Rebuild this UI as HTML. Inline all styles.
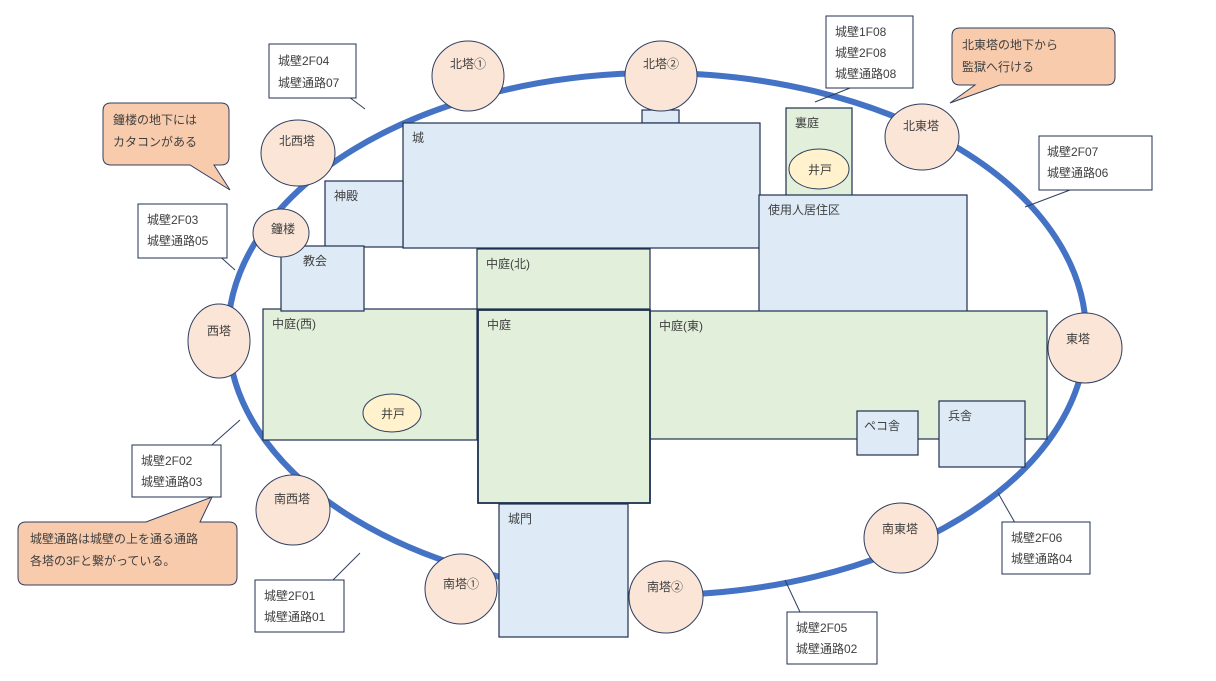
<!DOCTYPE html>
<html><head><meta charset="utf-8">
<style>
html,body{margin:0;padding:0;background:#fff;}
svg{display:block;}
text{font-family:"Liberation Sans","Noto Sans CJK JP",sans-serif;font-size:12px;fill:#404040;}
.b{fill:#DEEBF7;stroke:#1F3050;stroke-width:1.2;}
.g{fill:#E2EFDA;stroke:#1F3050;stroke-width:1.2;}
.t{fill:#FBE5D6;stroke:#2F3F60;stroke-width:1;}
.w{fill:#FFF2CC;stroke:#2F3F60;stroke-width:1;}
.l{fill:#fff;stroke:#1F3050;stroke-width:1;}
.c{fill:#F8CBAD;stroke:#2F3F60;stroke-width:1;}
.ln{stroke:#2F3F60;stroke-width:1;fill:none;}
</style></head><body>
<svg width="1216" height="681" viewBox="0 0 1216 681">
<ellipse cx="657" cy="334" rx="429" ry="261" fill="none" stroke="#4472C4" stroke-width="6"/>
<!-- leaders -->
<line class="ln" x1="345" y1="94" x2="365" y2="109"/>
<line class="ln" x1="850" y1="88" x2="815" y2="102"/>
<line class="ln" x1="1070" y1="190" x2="1025" y2="207"/>
<line class="ln" x1="215" y1="252" x2="235" y2="270"/>
<line class="ln" x1="205" y1="451" x2="240" y2="420"/>
<line class="ln" x1="328" y1="585" x2="360" y2="553"/>
<line class="ln" x1="800" y1="612" x2="785" y2="580"/>
<line class="ln" x1="1018" y1="528" x2="998" y2="493"/>
<!-- buildings -->
<rect class="b" x="642" y="110" width="37" height="13"/>
<rect class="b" x="403" y="123" width="357" height="125"/><text x="412" y="142">城</text>
<rect class="g" x="786" y="108" width="66" height="88"/><text x="795" y="127">裏庭</text>
<ellipse class="w" cx="819" cy="169" rx="30" ry="20"/><text x="808" y="174">井戸</text>
<rect class="b" x="759" y="195" width="208" height="117"/><text x="768" y="214">使用人居住区</text>
<rect class="b" x="325" y="181" width="78" height="66"/><text x="334" y="200">神殿</text>
<rect class="g" x="477" y="249" width="173" height="60"/><text x="486" y="268">中庭(北)</text>
<rect class="g" x="263" y="309" width="214" height="131"/><text x="272" y="328">中庭(西)</text>
<ellipse class="w" cx="392" cy="413" rx="29" ry="19"/><text x="381" y="418">井戸</text>
<rect class="g" x="650" y="311" width="397" height="128"/><text x="659" y="330">中庭(東)</text>
<rect class="g" x="478" y="310" width="172" height="193" style="stroke-width:1.8"/><text x="487" y="329">中庭</text>
<rect class="b" x="857" y="411" width="61" height="44"/><text x="864" y="430">ペコ舎</text>
<rect class="b" x="939" y="401" width="86" height="66"/><text x="948" y="420">兵舎</text>
<rect class="b" x="499" y="504" width="129" height="133"/><text x="508" y="523">城門</text>
<rect class="b" x="281" y="246" width="83" height="65"/>
<ellipse class="t" cx="281" cy="233" rx="28" ry="24"/><text x="271" y="233">鐘楼</text>
<text x="303" y="265">教会</text>
<!-- towers -->
<ellipse class="t" cx="468" cy="76" rx="36" ry="35"/><text x="450" y="68">北塔①</text>
<ellipse class="t" cx="661" cy="76" rx="36" ry="35"/><text x="643" y="68">北塔②</text>
<ellipse class="t" cx="298" cy="153" rx="37" ry="33"/><text x="279" y="145">北西塔</text>
<ellipse class="t" cx="922" cy="137" rx="37" ry="33"/><text x="903" y="130">北東塔</text>
<ellipse class="t" cx="219" cy="341" rx="31" ry="37"/><text x="207" y="335">西塔</text>
<ellipse class="t" cx="1085" cy="348" rx="37" ry="35"/><text x="1066" y="343">東塔</text>
<ellipse class="t" cx="293" cy="510" rx="37" ry="35"/><text x="274" y="503">南西塔</text>
<ellipse class="t" cx="461" cy="589" rx="36" ry="35"/><text x="443" y="588">南塔①</text>
<ellipse class="t" cx="666" cy="597" rx="37" ry="36"/><text x="647" y="591">南塔②</text>
<ellipse class="t" cx="901" cy="538" rx="37" ry="35"/><text x="882" y="533">南東塔</text>
<!-- labels -->
<rect class="l" x="269" y="44" width="87" height="54"/><text x="278" y="65">城壁2F04</text><text x="278" y="87">城壁通路07</text>
<rect class="l" x="826" y="16" width="87" height="72"/><text x="835" y="36">城壁1F08</text><text x="835" y="57">城壁2F08</text><text x="835" y="78">城壁通路08</text>
<rect class="l" x="1039" y="136" width="113" height="54"/><text x="1047" y="156">城壁2F07</text><text x="1047" y="177">城壁通路06</text>
<rect class="l" x="138" y="204" width="89" height="54"/><text x="147" y="224">城壁2F03</text><text x="147" y="245">城壁通路05</text>
<rect class="l" x="132" y="445" width="89" height="52"/><text x="141" y="465">城壁2F02</text><text x="141" y="486">城壁通路03</text>
<rect class="l" x="255" y="580" width="89" height="52"/><text x="264" y="600">城壁2F01</text><text x="264" y="621">城壁通路01</text>
<rect class="l" x="787" y="612" width="90" height="52"/><text x="796" y="632">城壁2F05</text><text x="796" y="653">城壁通路02</text>
<rect class="l" x="1002" y="522" width="88" height="52"/><text x="1011" y="542">城壁2F06</text><text x="1011" y="563">城壁通路04</text>
<!-- callouts -->
<path class="c" d="M111,103 H221 Q229,103 229,111 V157 Q229,165 221,165 H214 L230,190 L190,165 H111 Q103,165 103,157 V111 Q103,103 111,103 Z"/>
<text x="113" y="124">鐘楼の地下には</text><text x="113" y="146">カタコンがある</text>
<path class="c" d="M960,28 H1107 Q1115,28 1115,36 V77 Q1115,85 1107,85 H1000 L950,103 L975,85 H960 Q952,85 952,77 V36 Q952,28 960,28 Z"/>
<text x="962" y="49">北東塔の地下から</text><text x="962" y="71">監獄へ行ける</text>
<path class="c" d="M26,522 H146 L212,497 L200,522 H229 Q237,522 237,530 V577 Q237,585 229,585 H26 Q18,585 18,577 V530 Q18,522 26,522 Z"/>
<text x="30" y="543">城壁通路は城壁の上を通る通路</text><text x="30" y="565">各塔の3Fと繋がっている。</text>
</svg>
</body></html>
